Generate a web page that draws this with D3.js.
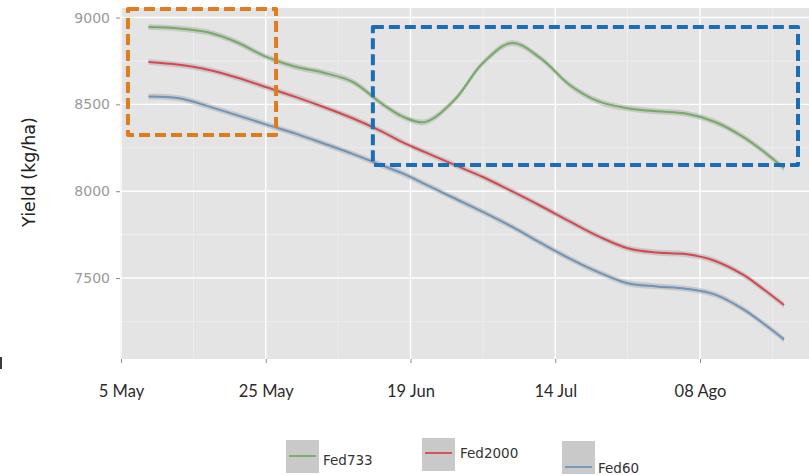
<!DOCTYPE html>
<html>
<head>
<meta charset="utf-8">
<script src="https://cdn.jsdelivr.net/npm/d3@7"></script>
<style>
  html, body { margin: 0; padding: 0; background: #ffffff; }
  svg { display: block; }
</style>
</head>
<body>
<svg id="chart" width="809" height="475"></svg>
<script>
// Sowing-date positions (tick index units) and smoothed yields (kg/ha)
const positions = [0.19, 0.4, 0.6, 0.8, 1.0, 1.2, 1.4, 1.6, 1.8, 1.95, 2.1, 2.3,
                   2.5, 2.7, 2.9, 3.1, 3.3, 3.5, 3.7, 3.9, 4.1, 4.3, 4.45, 4.58];
const fed733  = [8945, 8937, 8915, 8858, 8775, 8718, 8682, 8630, 8505, 8428, 8398, 8522,
                 8738, 8853, 8765, 8612, 8517, 8478, 8460, 8447, 8400, 8312, 8222, 8134];
const fed2000 = [8744, 8728, 8700, 8655, 8600, 8545, 8485, 8420, 8345, 8280, 8225, 8153,
                 8082, 8000, 7915, 7826, 7740, 7672, 7647, 7638, 7600, 7518, 7428, 7345];
const fed60   = [8545, 8535, 8490, 8438, 8385, 8333, 8275, 8215, 8150, 8101, 8041, 7961,
                 7881, 7796, 7702, 7612, 7533, 7470, 7452, 7439, 7406, 7320, 7231, 7147];

const seriesNames = ["Fed733", "Fed2000", "Fed60"];
const seriesColors = ["#72ad62", "#d9464d", "#6d94bb"];

const xTickPositions = [0, 1, 2, 3, 4];
const xTickLabels = ["5 May", "25 May", "19 Jun", "14 Jul", "08 Ago"];
const yTicks = [7500, 8000, 8500, 9000];
const yMinorTicks = [7250, 7750, 8250, 8750];
const xMinorTicks = [0.5, 1.5, 2.5, 3.5, 4.5];

// Highlighted regions: [x0, x1, yLow, yHigh]
const earlyRegion = [0.048, 1.071, 8324, 9049];
const lateRegion  = [1.740, 4.677, 8151, 8945];

const svg = d3.select("#chart");

const panel = { left: 121, right: 809, top: 8, bottom: 359 };

const x = d3.scaleLinear().domain([0, 4.753]).range([panel.left, panel.right]);
const y = d3.scaleLinear().domain([7034, 9055]).range([panel.bottom, panel.top]);

// panel background
svg.append("rect")
  .attr("x", panel.left - 1).attr("y", panel.top)
  .attr("width", panel.right - panel.left + 1).attr("height", panel.bottom - panel.top)
  .attr("fill", "#e4e4e4");

const grid = svg.append("g");
grid.selectAll(".hminor").data(yMinorTicks).join("line")
  .attr("x1", panel.left - 1).attr("x2", panel.right)
  .attr("y1", d => y(d)).attr("y2", d => y(d))
  .attr("stroke", "#f0f0f0").attr("stroke-width", 0.8);
grid.selectAll(".vminor").data(xMinorTicks).join("line")
  .attr("x1", d => x(d)).attr("x2", d => x(d))
  .attr("y1", panel.top).attr("y2", panel.bottom)
  .attr("stroke", "#f0f0f0").attr("stroke-width", 0.8);
grid.selectAll(".hmajor").data(yTicks).join("line")
  .attr("x1", panel.left - 1).attr("x2", panel.right)
  .attr("y1", d => y(d)).attr("y2", d => y(d))
  .attr("stroke", "#ffffff").attr("stroke-width", 1.4);
grid.selectAll(".vmajor").data(xTickPositions).join("line")
  .attr("x1", d => x(d)).attr("x2", d => x(d))
  .attr("y1", panel.top).attr("y2", panel.bottom)
  .attr("stroke", "#ffffff").attr("stroke-width", 1.4);

// smoothed series with a narrow confidence band
const allSeries = [fed733, fed2000, fed60].map((vals, i) => ({
  name: seriesNames[i],
  color: seriesColors[i],
  points: positions.map((p, j) => ({ p, v: vals[j] }))
}));

const band = d3.area()
  .x(d => x(d.p))
  .y0(d => y(d.v - 17))
  .y1(d => y(d.v + 17))
  .curve(d3.curveCatmullRom.alpha(0.5));

const line = d3.line()
  .x(d => x(d.p))
  .y(d => y(d.v))
  .curve(d3.curveCatmullRom.alpha(0.5));

const lines = svg.append("g");
allSeries.forEach(s => {
  lines.append("path")
    .attr("d", band(s.points))
    .attr("fill", "#9c9c9c").attr("fill-opacity", 0.38);
  lines.append("path")
    .attr("d", line(s.points))
    .attr("fill", "none")
    .attr("stroke", s.color).attr("stroke-width", 2)
    .attr("stroke-linejoin", "round");
});

// y axis
const yAxis = svg.append("g")
  .attr("transform", `translate(${panel.left - 1},0)`)
  .call(d3.axisLeft(y).tickValues(yTicks).tickSize(4).tickPadding(6).tickFormat(d3.format("d")));
yAxis.select(".domain").remove();
yAxis.selectAll(".tick line").attr("stroke", "#8a8a8a");
yAxis.selectAll(".tick text")
  .attr("fill", "#9a9a9a")
  .style("font-family", "DejaVu Sans, sans-serif")
  .style("font-size", "14px");

// x axis
const xAxis = svg.append("g")
  .attr("transform", `translate(0,${panel.bottom})`)
  .call(d3.axisBottom(x).tickValues(xTickPositions).tickSize(4).tickPadding(22)
    .tickFormat((d, i) => xTickLabels[i]));
xAxis.select(".domain").remove();
xAxis.selectAll(".tick line").attr("stroke", "#8a8a8a");
xAxis.selectAll(".tick text")
  .attr("fill", "#2b2b2b")
  .style("font-family", "Lato, sans-serif")
  .style("font-size", "16.5px");

// y axis title
svg.append("text")
  .attr("transform", "translate(35,172) rotate(-90)")
  .attr("text-anchor", "middle")
  .attr("fill", "#222")
  .style("font-family", "DejaVu Sans, sans-serif")
  .style("font-size", "17.5px")
  .text("Yield (kg/ha)");

// highlighted regions
const regions = [
  { r: earlyRegion, color: "#e07c1e" },
  { r: lateRegion, color: "#1b6db4" }
];
svg.append("g").selectAll("rect").data(regions).join("rect")
  .attr("x", d => x(d.r[0]))
  .attr("y", d => y(d.r[3]))
  .attr("width", d => x(d.r[1]) - x(d.r[0]))
  .attr("height", d => y(d.r[2]) - y(d.r[3]))
  .attr("fill", "none")
  .attr("stroke", d => d.color)
  .attr("stroke-width", 4)
  .attr("stroke-dasharray", "11,5")
  .attr("stroke-linejoin", "round");

// legend
const legendItems = [
  { key: [286, 440], lineY: 456, text: [323, 460] },
  { key: [422, 438], lineY: 453, text: [460, 453] },
  { key: [562, 441], lineY: 467, text: [598, 468] }
];
const legend = svg.append("g");
allSeries.forEach((s, i) => {
  const it = legendItems[i];
  legend.append("rect")
    .attr("x", it.key[0]).attr("y", it.key[1])
    .attr("width", 33).attr("height", 33)
    .attr("fill", "#c9c9c9");
  legend.append("line")
    .attr("x1", it.key[0] + 3).attr("x2", it.key[0] + 30)
    .attr("y1", it.lineY).attr("y2", it.lineY)
    .attr("stroke", s.color).attr("stroke-width", 1.8);
  legend.append("text")
    .attr("x", it.text[0]).attr("y", it.text[1])
    .attr("dy", "0.35em")
    .attr("fill", "#333")
    .style("font-family", "DejaVu Sans, sans-serif")
    .style("font-size", "13.5px")
    .text(s.name);
});

// small edge mark at lower left
svg.append("rect")
  .attr("x", 0).attr("y", 357).attr("width", 2).attr("height", 12)
  .attr("fill", "#3a3a3a");
</script>
</body>
</html>
